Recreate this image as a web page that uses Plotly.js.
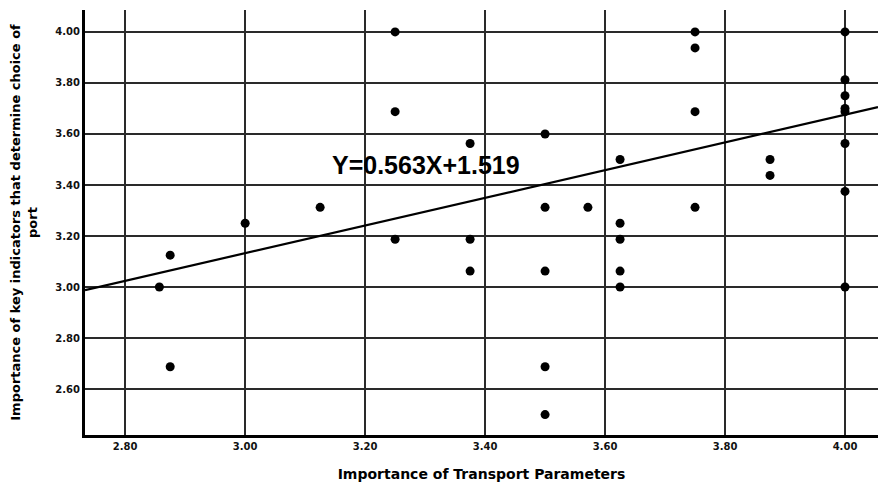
<!DOCTYPE html>
<html>
<head>
<meta charset="utf-8">
<script src="https://cdn.plot.ly/plotly-3.0.1.min.js"></script>
<style>html,body{margin:0;padding:0;background:#fff;}#chart{width:878px;height:483px;}</style>
</head>
<body>
<div id="chart"></div>
<script>
// Importance of Transport Parameters (x) vs Importance of key indicators (y)
const transportX = [2.857, 2.875, 2.875, 3.00, 3.125, 3.25, 3.25, 3.25,
  3.375, 3.375, 3.375, 3.50, 3.50, 3.50, 3.50, 3.50, 3.5714,
  3.625, 3.625, 3.625, 3.625, 3.625,
  3.75, 3.75, 3.75, 3.75, 3.875, 3.875,
  4.00, 4.00, 4.00, 4.00, 4.00, 4.00, 4.00, 4.00];
const indicatorY = [3.00, 3.125, 2.6875, 3.25, 3.3125, 4.00, 3.6875, 3.1875,
  3.5625, 3.1875, 3.0625, 3.60, 3.3125, 3.0625, 2.6875, 2.50, 3.3125,
  3.50, 3.25, 3.1875, 3.0625, 3.00,
  4.00, 3.9375, 3.6875, 3.3125, 3.50, 3.4375,
  4.00, 3.8125, 3.75, 3.70, 3.6875, 3.5625, 3.375, 3.00];
// Fit line as drawn (end points)
const fitX = [2.733, 4.055];
const fitY = [2.988, 3.705];
const equationText = "Y=0.563X+1.519";
const xTicks = [2.8, 3.0, 3.2, 3.4, 3.6, 3.8, 4.0];
const yTicks = [2.6, 2.8, 3.0, 3.2, 3.4, 3.6, 3.8, 4.0];

const titleFont = '"DejaVu Sans", Verdana, sans-serif';
const data = [
  {x: transportX, y: indicatorY, type: 'scatter', mode: 'markers',
   marker: {color: '#000', size: 9}, hoverinfo: 'x+y'},
  {x: fitX, y: fitY, type: 'scatter', mode: 'lines',
   line: {color: '#000', width: 2.2}, hoverinfo: 'skip'}
];
const layout = {
  width: 878, height: 483,
  margin: {l: 85, r: 0, t: 10, b: 48},
  showlegend: false,
  paper_bgcolor: '#fff', plot_bgcolor: '#fff',
  font: {family: 'Arial, "Liberation Sans", sans-serif', color: '#000'},
  xaxis: {
    range: [2.733, 4.055], tickvals: xTicks, tickformat: '.2f',
    showgrid: true, gridcolor: '#2a2a2a', gridwidth: 1.7,
    zeroline: false, showline: true, linecolor: '#000', linewidth: 3,
    ticks: '', tickfont: {size: 10, color: '#111', family: titleFont, weight: 'bold'},
    title: {text: '<b>Importance of Transport Parameters</b>', font: {size: 14, color: '#000', family: titleFont}, standoff: 19}
  },
  yaxis: {
    range: [2.42, 4.086], tickvals: yTicks, tickformat: '.2f',
    showgrid: true, gridcolor: '#2a2a2a', gridwidth: 1.7,
    zeroline: false, showline: true, linecolor: '#000', linewidth: 3,
    ticks: '', tickfont: {size: 10, color: '#111', family: titleFont, weight: 'bold'},
    title: {text: '<b>Importance of key indicators that determine choice of<br>port</b>', font: {size: 13, color: '#000', family: titleFont}, standoff: 15}
  },
  annotations: [{
    x: 3.302, y: 3.478, xref: 'x', yref: 'y', xanchor: 'center', yanchor: 'middle',
    text: '<b>' + equationText + '</b>', showarrow: false,
    font: {size: 25, color: '#000', family: 'Arial, "Liberation Sans", sans-serif'}
  }]
};
Plotly.newPlot('chart', data, layout, {staticPlot: true, displayModeBar: false});
</script>
</body>
</html>
